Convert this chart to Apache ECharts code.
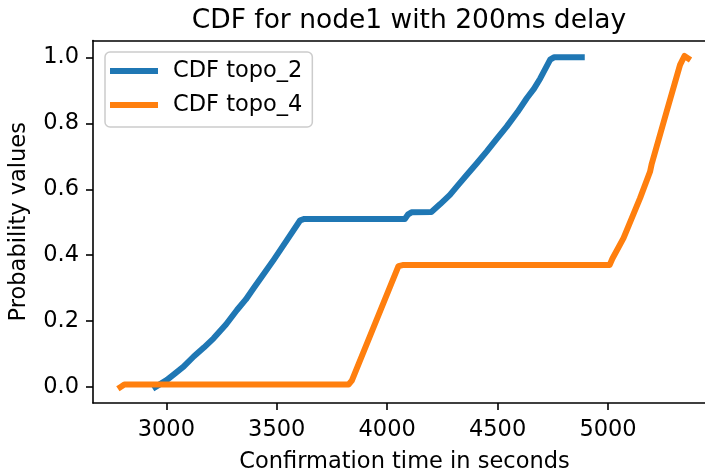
<!DOCTYPE html>
<html>
<head>
<meta charset="utf-8">
<script src="https://cdn.jsdelivr.net/npm/echarts@6/dist/echarts.min.js"></script>
<style>
  html, body { margin: 0; padding: 0; background: #fff; }
  #chart { width: 705px; height: 475px; }
</style>
</head>
<body>
<div id="chart"></div>
<script>
// Confirmation-time CDFs for node1 (200ms delay)
const titleText = 'CDF for node1 with 200ms delay';
const xAxisName = 'Confirmation time in seconds';
const yAxisName = 'Probability values';
const seriesNames = ['CDF topo_2', 'CDF topo_4'];

const xTicks = [3000, 3500, 4000, 4500, 5000];
const yTicks = [0.0, 0.2, 0.4, 0.6, 0.8, 1.0];

// topo_2: confirmation time (s) and cumulative probability
const topo2Time = [2950, 3003, 3040, 3078, 3124, 3170, 3214, 3270, 3320, 3360, 3395, 3440, 3486, 3546, 3606, 3625,
                   4080, 4095, 4110, 4200, 4240, 4284, 4320, 4360, 4405, 4450, 4495, 4541, 4590, 4632, 4665, 4693, 4738, 4755, 4881];
const topo2Prob = [0.0, 0.022, 0.042, 0.062, 0.093, 0.12, 0.148, 0.19, 0.234, 0.266, 0.3, 0.342, 0.386, 0.446, 0.506, 0.51,
                   0.51, 0.524, 0.53, 0.531, 0.555, 0.583, 0.612, 0.643, 0.678, 0.714, 0.752, 0.79, 0.834, 0.876, 0.905, 0.936, 0.993, 1.0, 1.0];

// topo_4: confirmation time (s) and cumulative probability
const topo4Time = [2792, 2797, 2810, 3825, 3840, 4051, 4070, 5007, 5020, 5070, 5145, 5190, 5197, 5265, 5326, 5346, 5362];
const topo4Prob = [0.0, 0.006, 0.008, 0.008, 0.02, 0.367, 0.37, 0.37, 0.39, 0.452, 0.573, 0.653, 0.675, 0.835, 0.977, 1.004, 0.997];

const pairs = (xs, ys) => xs.map((x, i) => [x, ys[i]]);

const FONT = 'DejaVu Sans';
const FS = 22.5;
const X_MIN = 2668, X_MAX = 5439;   // axes run past the right edge of the canvas
const chart = echarts.init(document.getElementById('chart'), null, { renderer: 'canvas' });

const spine = { show: true, onZero: false, lineStyle: { color: '#000', width: 1.6 } };

chart.setOption({
  animation: false,
  backgroundColor: '#ffffff',
  title: {
    text: titleText,
    left: 404, top: 3, textAlign: 'center',
    textStyle: { fontFamily: FONT, fontSize: 26.5, fontWeight: 'normal', color: '#000' }
  },
  legend: {
    orient: 'vertical',
    left: 105, top: 52,
    padding: [7, 10, 10, 5],
    itemGap: 10,
    itemWidth: 48, itemHeight: 6,
    icon: 'rect',
    backgroundColor: 'rgba(255,255,255,0.8)',
    borderColor: '#cccccc', borderWidth: 1.5, borderRadius: 5,
    textStyle: { fontFamily: FONT, fontSize: FS, color: '#000', lineHeight: 24, padding: [0, 0, 0, 10] },
    data: seriesNames
  },
  grid: {
    left: 93, top: 40.5, right: 0, height: 362.5, show: false,
    outerBoundsMode: 'none', containLabel: false
  },
  xAxis: [
    {
      type: 'value', min: X_MIN, max: X_MAX, position: 'bottom',
      name: xAxisName, nameLocation: 'middle', nameGap: 48,
      nameTextStyle: { fontFamily: FONT, fontSize: FS, color: '#000', padding: [0, 0, 0, 11] },
      axisLine: spine,
      splitLine: { show: false },
      axisTick: { show: true, inside: false, length: 7, customValues: xTicks,
                  lineStyle: { color: '#000', width: 1.6 } },
      axisLabel: { customValues: xTicks, margin: 16, fontFamily: FONT, fontSize: FS, color: '#000',
                   formatter: v => String(v) }
    },
    {
      // top spine only
      type: 'value', min: X_MIN, max: X_MAX, position: 'top',
      axisLine: spine, axisTick: { show: false }, axisLabel: { show: false }, splitLine: { show: false }
    }
  ],
  yAxis: {
    type: 'value', min: -0.048, max: 1.051, position: 'left',
    name: yAxisName, nameLocation: 'middle', nameGap: 62, nameRotate: 90,
    nameTextStyle: { fontFamily: FONT, fontSize: FS, color: '#000' },
    axisLine: spine,
    splitLine: { show: false },
    axisTick: { show: true, inside: false, length: 7, customValues: yTicks,
                lineStyle: { color: '#000', width: 1.6 } },
    axisLabel: { customValues: yTicks, margin: 14, fontFamily: FONT, fontSize: FS, color: '#000',
                 formatter: v => v.toFixed(1) }
  },
  series: [
    {
      name: seriesNames[0], type: 'line', data: pairs(topo2Time, topo2Prob),
      showSymbol: false, symbol: 'none', smooth: false,
      color: '#1f77b4',
      lineStyle: { color: '#1f77b4', width: 6, cap: 'square', join: 'round' }
    },
    {
      name: seriesNames[1], type: 'line', data: pairs(topo4Time, topo4Prob),
      showSymbol: false, symbol: 'none', smooth: false,
      color: '#ff7f0e',
      lineStyle: { color: '#ff7f0e', width: 6, cap: 'square', join: 'round' }
    }
  ]
});
</script>
</body>
</html>
